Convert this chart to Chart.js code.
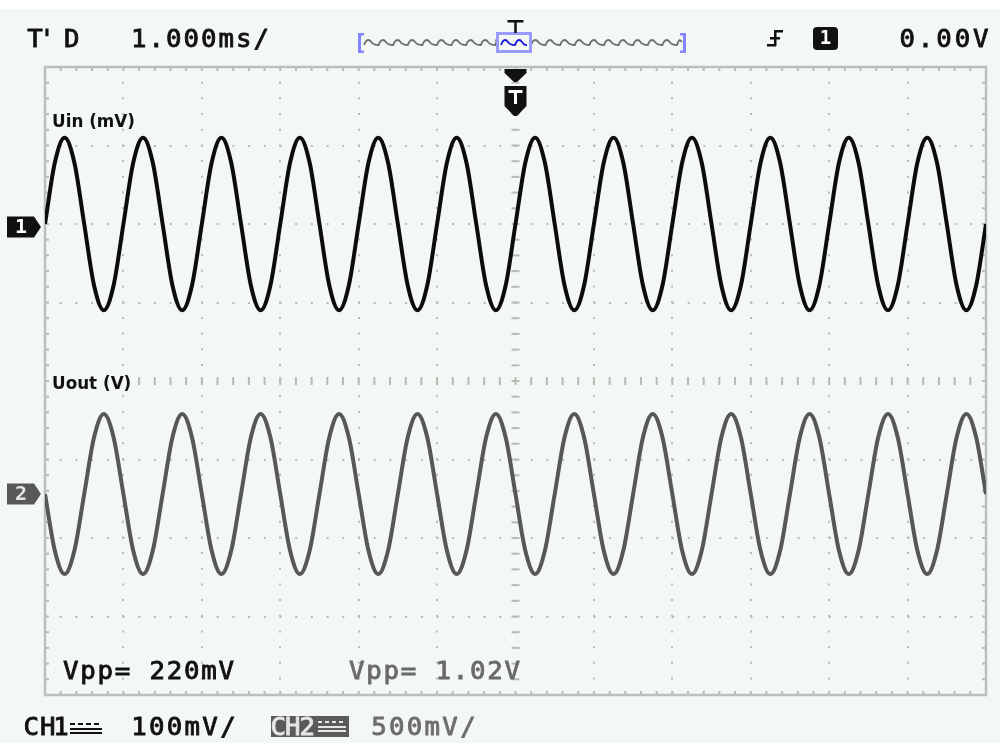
<!DOCTYPE html>
<html>
<head>
<meta charset="utf-8">
<title>Uin / Uout</title>
<script src="https://cdn.jsdelivr.net/npm/chart.js@4.4.0/dist/chart.umd.min.js"></script>
<style>
  html, body { margin: 0; padding: 0; background: #f3f8f4; }
  canvas { display: block; }
</style>
</head>
<body>
<canvas id="scope" width="1000" height="751"></canvas>
<script>
// sample times in ms, trigger point at 0
var timeMs = [
  -6, -5.875, -5.75, -5.625, -5.5, -5.375, -5.25, -5.125,
  -5, -4.875, -4.75, -4.625, -4.5, -4.375, -4.25, -4.125,
  -4, -3.875, -3.75, -3.625, -3.5, -3.375, -3.25, -3.125,
  -3, -2.875, -2.75, -2.625, -2.5, -2.375, -2.25, -2.125,
  -2, -1.875, -1.75, -1.625, -1.5, -1.375, -1.25, -1.125,
  -1, -0.875, -0.75, -0.625, -0.5, -0.375, -0.25, -0.125,
  0, 0.125, 0.25, 0.375, 0.5, 0.625, 0.75, 0.875,
  1, 1.125, 1.25, 1.375, 1.5, 1.625, 1.75, 1.875,
  2, 2.125, 2.25, 2.375, 2.5, 2.625, 2.75, 2.875,
  3, 3.125, 3.25, 3.375, 3.5, 3.625, 3.75, 3.875,
  4, 4.125, 4.25, 4.375, 4.5, 4.625, 4.75, 4.875,
  5, 5.125, 5.25, 5.375, 5.5, 5.625, 5.75, 5.875,
  6
];

// CH1 input, mV
var uinMv = [
  0, 78, 110, 78, 0, -78, -110, -78,
  0, 78, 110, 78, 0, -78, -110, -78,
  0, 78, 110, 78, 0, -78, -110, -78,
  0, 78, 110, 78, 0, -78, -110, -78,
  0, 78, 110, 78, 0, -78, -110, -78,
  0, 78, 110, 78, 0, -78, -110, -78,
  0, 78, 110, 78, 0, -78, -110, -78,
  0, 78, 110, 78, 0, -78, -110, -78,
  0, 78, 110, 78, 0, -78, -110, -78,
  0, 78, 110, 78, 0, -78, -110, -78,
  0, 78, 110, 78, 0, -78, -110, -78,
  0, 78, 110, 78, 0, -78, -110, -78,
  0
];

// CH2 output, V (inverted)
var uoutV = [
  0, -0.36, -0.51, -0.36, 0, 0.36, 0.51, 0.36,
  0, -0.36, -0.51, -0.36, 0, 0.36, 0.51, 0.36,
  0, -0.36, -0.51, -0.36, 0, 0.36, 0.51, 0.36,
  0, -0.36, -0.51, -0.36, 0, 0.36, 0.51, 0.36,
  0, -0.36, -0.51, -0.36, 0, 0.36, 0.51, 0.36,
  0, -0.36, -0.51, -0.36, 0, 0.36, 0.51, 0.36,
  0, -0.36, -0.51, -0.36, 0, 0.36, 0.51, 0.36,
  0, -0.36, -0.51, -0.36, 0, 0.36, 0.51, 0.36,
  0, -0.36, -0.51, -0.36, 0, 0.36, 0.51, 0.36,
  0, -0.36, -0.51, -0.36, 0, 0.36, 0.51, 0.36,
  0, -0.36, -0.51, -0.36, 0, 0.36, 0.51, 0.36,
  0, -0.36, -0.51, -0.36, 0, 0.36, 0.51, 0.36,
  0
];

// screen ranges: 12 div x 1ms, 8 div x 100mV (ch1) / 500mV (ch2)
var timeRange = [-6, 6];
var ch1Range = [-600, 200];
var ch2Range = [-1.28, 2.72];

var headerText = ['T\'', 'D', '1.000ms/', '0.00V'];
var readoutText = ['Vpp= 220mV', 'Vpp= 1.02V'];
var scaleText = ['100mV/', '500mV/'];
var traceNames = ['Uin (mV)', 'Uout (V)'];

var GRID = '#b6bbb6';
var BG = '#f3f8f4';

function toPoints(xs, ys) {
  var pts = [];
  for (var i = 0; i < xs.length; i++) pts.push({ x: xs[i], y: ys[i] });
  return pts;
}

// fixed-pitch "scope" lettering
function scopeText(ctx, str, x, y, color, pitch) {
  pitch = pitch || 17.5;
  ctx.save();
  ctx.fillStyle = color;
  ctx.strokeStyle = color;
  ctx.lineWidth = 0.8;
  ctx.font = '23px "DejaVu Sans Mono"';
  ctx.textAlign = 'center';
  ctx.textBaseline = 'alphabetic';
  for (var i = 0; i < str.length; i++) {
    ctx.save();
    ctx.translate(x + i * pitch + pitch / 2, y);
    ctx.scale(1.12, 1.04);
    ctx.fillText(str[i], 0, 0);
    ctx.strokeText(str[i], 0, 0);
    ctx.restore();
  }
  ctx.restore();
}

function dcSymbol(ctx, x, y, w, color) {
  ctx.save();
  ctx.fillStyle = color;
  for (var i = 0; i < 4; i++) ctx.fillRect(x + i * (w / 4), y, w / 4 - 3, 2);
  ctx.fillRect(x, y + 5, w, 2);
  ctx.fillRect(x, y + 9, w, 2);
  ctx.restore();
}

function smallWave(ctx, x0, x1, y, amp, period, color, width) {
  ctx.save();
  ctx.strokeStyle = color;
  ctx.lineWidth = width;
  ctx.beginPath();
  ctx.moveTo(x0, y + amp);
  var up = true;
  for (var x = x0; x < x1 - 0.1; x += period / 2) {
    var nx = Math.min(x + period / 2, x1);
    var ty = up ? y - amp : y + amp;
    ctx.bezierCurveTo(x + period * 0.15, ty, nx - period * 0.15, ty, nx, up ? y : y + amp);
    up = !up;
  }
  ctx.stroke();
  ctx.restore();
}

function chMarker(ctx, y, fill, textColor, label) {
  ctx.save();
  ctx.fillStyle = fill;
  ctx.beginPath();
  ctx.moveTo(7, y - 10.5);
  ctx.lineTo(34, y - 10.5);
  ctx.lineTo(41, y);
  ctx.lineTo(34, y + 10.5);
  ctx.lineTo(7, y + 10.5);
  ctx.closePath();
  ctx.fill();
  ctx.fillStyle = textColor;
  ctx.font = 'bold 20px "DejaVu Sans Mono"';
  ctx.textAlign = 'center';
  ctx.textBaseline = 'middle';
  ctx.fillText(label, 21, y + 1);
  ctx.restore();
}

var scopeScreen = {
  id: 'scopeScreen',
  beforeDraw: function (chart) {
    var ctx = chart.ctx;
    ctx.save();
    ctx.fillStyle = BG;
    ctx.fillRect(0, 0, chart.width, chart.height);
    ctx.fillStyle = '#ffffff';
    ctx.fillRect(0, 0, chart.width, 9);
    ctx.fillRect(0, 743, chart.width, 8);
    ctx.restore();
  },
  beforeDatasetsDraw: function (chart) {
    var ctx = chart.ctx, a = chart.chartArea;
    var xs = chart.scales.x, ys = chart.scales.y;
    var cx = xs.getPixelForValue(0), cy = ys.getPixelForValue(-200);
    var sx = (a.right - a.left) / 60, sy = (a.bottom - a.top) / 40;
    var i;
    ctx.save();
    ctx.fillStyle = GRID;
    // minor ticks on the frame and centre lines
    for (i = 1; i < 60; i++) {
      var px = a.left + i * sx;
      ctx.fillRect(px - 1, a.top, 2, 4);
      ctx.fillRect(px - 1, a.bottom - 4, 2, 4);
      ctx.fillRect(px - 1, cy - 4, 2, 8);
    }
    for (i = 1; i < 40; i++) {
      var py = a.top + i * sy;
      ctx.fillRect(a.left, py - 1, 4, 2);
      ctx.fillRect(a.right - 4, py - 1, 4, 2);
      ctx.fillRect(cx - 4, py - 1, 8, 2);
    }
    ctx.strokeStyle = '#bcc0bc';
    ctx.lineWidth = 2.5;
    ctx.strokeRect(a.left, a.top, a.right - a.left, a.bottom - a.top);
    ctx.restore();
  },
  afterDraw: function (chart) {
    var ctx = chart.ctx;
    var cx = chart.scales.x.getPixelForValue(0);

    // header
    scopeText(ctx, headerText[0], 29, 47, '#111', 12);
    scopeText(ctx, headerText[1], 63, 47, '#111');
    scopeText(ctx, headerText[2], 130, 47, '#111');
    scopeText(ctx, headerText[3], 898, 47, '#111', 18.4);

    // memory bar with trigger position
    ctx.save();
    smallWave(ctx, 364, 497, 42, 3, 14.6, '#6f6f6f', 1.8);
    smallWave(ctx, 531, 682, 42, 3, 14.6, '#6f6f6f', 1.8);
    ctx.fillStyle = '#8484ff';
    ctx.fillRect(358, 33, 3, 20);
    ctx.fillRect(358, 33, 6, 2.5);
    ctx.fillRect(358, 50.5, 6, 2.5);
    ctx.fillRect(683, 33, 3, 20);
    ctx.fillRect(680, 33, 6, 2.5);
    ctx.fillRect(680, 50.5, 6, 2.5);
    ctx.strokeStyle = '#9a9aff';
    ctx.lineWidth = 3;
    ctx.strokeRect(497.5, 33.5, 33, 18);
    ctx.restore();
    smallWave(ctx, 501, 527, 42, 3, 14, '#1a1ad8', 1.8);
    ctx.save();
    ctx.fillStyle = '#111';
    ctx.fillRect(cx - 8, 20, 16, 2.5);
    ctx.fillRect(cx - 1.25, 20, 2.5, 13);

    // trigger point marker
    ctx.beginPath();
    ctx.moveTo(cx - 11, 69);
    ctx.lineTo(cx + 11, 69);
    ctx.lineTo(cx + 11, 73);
    ctx.lineTo(cx + 1.5, 82);
    ctx.lineTo(cx - 1.5, 82);
    ctx.lineTo(cx - 11, 73);
    ctx.closePath();
    ctx.fill();
    ctx.beginPath();
    ctx.moveTo(cx - 11, 86);
    ctx.lineTo(cx + 11, 86);
    ctx.lineTo(cx + 11, 106);
    ctx.lineTo(cx + 1.5, 116);
    ctx.lineTo(cx - 1.5, 116);
    ctx.lineTo(cx - 11, 106);
    ctx.closePath();
    ctx.fill();
    ctx.fillStyle = '#ffffff';
    ctx.fillRect(cx - 7, 90, 14, 3);
    ctx.fillRect(cx - 1.5, 90, 3, 14);

    // trigger slope + source
    ctx.fillStyle = '#111';
    ctx.fillRect(767, 44, 9, 2.5);
    ctx.fillRect(774, 30, 2.5, 16);
    ctx.fillRect(774, 30, 9, 2.5);
    ctx.fillRect(770, 37, 10, 2.5);
    ctx.beginPath();
    ctx.roundRect(813, 27, 25, 23, 4);
    ctx.fill();
    ctx.fillStyle = '#ffffff';
    ctx.font = 'bold 19px "DejaVu Sans Mono"';
    ctx.textAlign = 'center';
    ctx.textBaseline = 'middle';
    ctx.fillText('1', 825.5, 39);
    ctx.restore();

    // channel ground markers
    chMarker(ctx, chart.scales.y.getPixelForValue(0) + 3, '#111', '#ffffff', '1');
    chMarker(ctx, chart.scales.y2.getPixelForValue(0), '#585858', '#e4e4e4', '2');

    // trace names
    ctx.save();
    ctx.font = 'bold 16.8px "DejaVu Sans"';
    ctx.textBaseline = 'alphabetic';
    ctx.textAlign = 'left';
    var w = ctx.measureText(traceNames[1]).width;
    ctx.fillStyle = BG;
    ctx.fillRect(51, 372, w + 5, 20);
    ctx.fillStyle = '#111';
    ctx.fillText(traceNames[0], 52, 127);
    ctx.fillText(traceNames[1], 52, 389);
    ctx.restore();

    // measurements
    scopeText(ctx, readoutText[0], 62, 679, '#111', 17.3);
    scopeText(ctx, readoutText[1], 348, 679, '#6a6a6a', 17.3);

    // channel settings
    scopeText(ctx, 'CH', 23, 735, '#111', 16.5);
    scopeText(ctx, '1', 54, 735, '#111', 14);
    dcSymbol(ctx, 70, 723, 32, '#111');
    scopeText(ctx, scaleText[0], 130, 735, '#111', 17.8);
    ctx.save();
    ctx.fillStyle = '#5a5a5a';
    ctx.fillRect(271, 716, 78, 21);
    ctx.restore();
    scopeText(ctx, 'CH2', 271, 735, '#e6e6e6', 14.5);
    dcSymbol(ctx, 318, 721, 28, '#e6e6e6');
    scopeText(ctx, scaleText[1], 370, 735, '#6e6e6e', 17.8);
  }
};

function gridColor(edges, centre) {
  return function (c) {
    var v = c.tick ? c.tick.value : null;
    if (v === edges[0] || v === edges[1] || v === centre) return 'rgba(0,0,0,0)';
    return GRID;
  };
}

new Chart(document.getElementById('scope'), {
  type: 'line',
  data: {
    datasets: [{
      label: traceNames[0],
      data: toPoints(timeMs, uinMv),
      yAxisID: 'y',
      borderColor: '#0c0c0c',
      borderWidth: 4,
      pointRadius: 0,
      cubicInterpolationMode: 'monotone'
    }, {
      label: traceNames[1],
      data: toPoints(timeMs, uoutV),
      yAxisID: 'y2',
      borderColor: '#575757',
      borderWidth: 4,
      pointRadius: 0,
      cubicInterpolationMode: 'monotone'
    }]
  },
  options: {
    responsive: false,
    animation: false,
    events: [],
    layout: { padding: { left: 45, top: 67, right: 14, bottom: 56 } },
    plugins: { legend: { display: false }, tooltip: { enabled: false } },
    scales: {
      x: {
        type: 'linear',
        min: timeRange[0],
        max: timeRange[1],
        ticks: { display: false, stepSize: 1 },
        border: { display: false, dash: [2, 13.68], dashOffset: 1 },
        grid: { drawTicks: false, lineWidth: 2, color: gridColor(timeRange, 0) }
      },
      y: {
        min: ch1Range[0],
        max: ch1Range[1],
        ticks: { display: false, stepSize: 100 },
        border: { display: false, dash: [2, 13.7], dashOffset: 1 },
        grid: { drawTicks: false, lineWidth: 2, color: gridColor(ch1Range, -200) }
      },
      y2: {
        display: false,
        min: ch2Range[0],
        max: ch2Range[1]
      }
    }
  },
  plugins: [scopeScreen]
});
</script>
</body>
</html>
